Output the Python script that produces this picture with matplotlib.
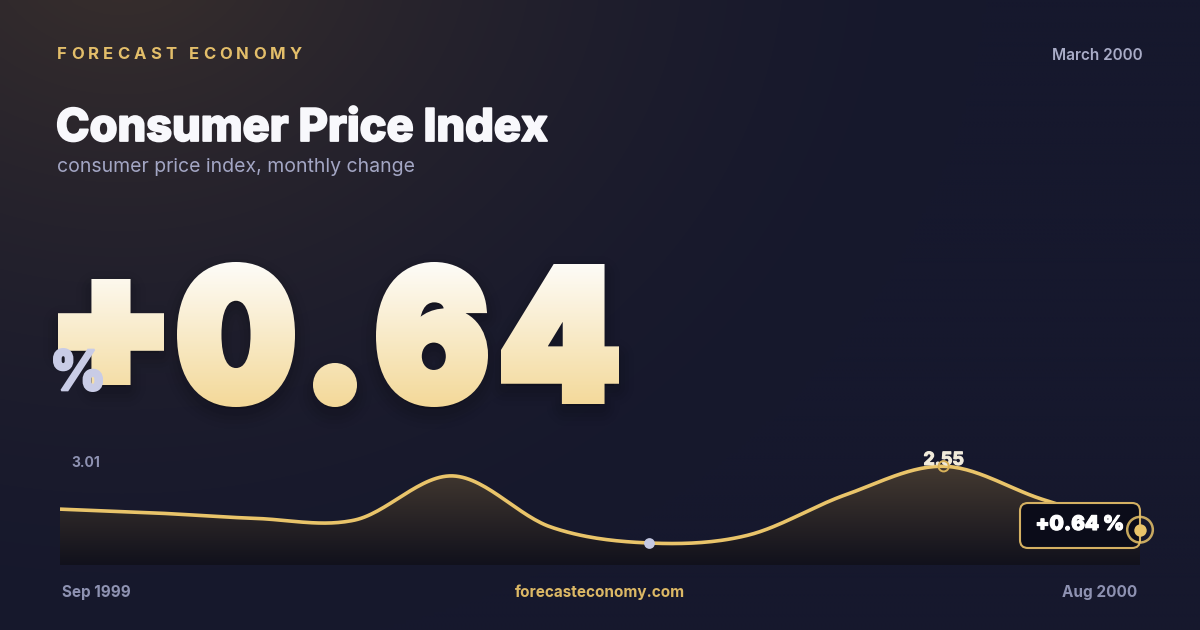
import numpy as np
import matplotlib
matplotlib.use("Agg")
import matplotlib.pyplot as plt
import matplotlib.patheffects as pe
from matplotlib.textpath import TextPath
from matplotlib.patches import PathPatch, FancyBboxPatch, Polygon
from matplotlib.path import Path
from matplotlib.font_manager import FontProperties
from matplotlib.transforms import Affine2D, Bbox
from matplotlib.colors import to_rgb

plt.rcParams["font.family"] = ["Inter", "DejaVu Sans"]

# data
months = ["Sep 1999", "Oct 1999", "Nov 1999", "Dec 1999", "Jan 2000", "Feb 2000",
          "Mar 2000", "Apr 2000", "May 2000", "Jun 2000", "Jul 2000", "Aug 2000"]
cpi_change = [1.26, 1.14, 0.98, 0.93, 2.26, 0.72, 0.24, 0.47, 1.69, 2.55, 1.56, 0.64]
axis_max, axis_min = 3.01, 0.18
latest_idx = len(cpi_change) - 1
peak_idx = int(np.argmax(cpi_change))
current_idx = 6  # March 2000

brand = "FORECAST ECONOMY"
title = "Consumer Price Index"
subtitle = "consumer price index, monthly change"
date_label = "March 2000"
site = "forecasteconomy.com"

W, H = 1200, 630
GOLD = "#e9c46a"
MUTED = "#8e92b2"
PX = 72 / 100  # points per pixel

# ink boxes of the hero glyphs (x0, x1, ytop, ybot) in pixels
hero_boxes = [(58, 164, 279, 385), (177, 295, 262, 407), (313, 357, 363, 407),
              (376, 488, 262, 407), (501, 619, 264, 404)]


def catmull_rom(x, y, n=30):
    pts = np.column_stack([x, y]).astype(float)
    ext = np.vstack([pts[0], pts, pts[-1]])
    t = np.linspace(0, 1, n, endpoint=False)[:, None]
    out = []
    for i in range(len(pts) - 1):
        p0, p1, p2, p3 = ext[i], ext[i + 1], ext[i + 2], ext[i + 3]
        c1 = p1 + (p2 - p0) / 6
        c2 = p2 - (p3 - p1) / 6
        seg = ((1 - t) ** 3) * p1 + 3 * ((1 - t) ** 2) * t * c1 + 3 * (1 - t) * t ** 2 * c2 + t ** 3 * p2
        out.append(seg)
    out.append(pts[-1:])
    out = np.vstack(out)
    return out[:, 0], out[:, 1]


def fit_path(path, x0, x1, ytop, ybot):
    e = path.get_extents()
    tr = (Affine2D().translate(-e.x0, -e.y0)
          .scale((x1 - x0) / e.width, -(ybot - ytop) / e.height)
          .translate(x0, ybot))
    return tr.transform_path(path)


def heavy_glyphs(text, boxes, hw, prop):
    # fit each glyph inside its box shrunk by the stroke half-width
    paths = []
    for ch, (x0, x1, yt, yb) in zip(text, boxes):
        tp = TextPath((0, 0), ch, size=100, prop=prop)
        paths.append(fit_path(tp, x0 + hw, x1 - hw, yt + hw, yb - hw))
    return Path.make_compound_path(*paths)


class RowGradient(pe.AbstractPathEffect):
    """Fill + stroke a path one pixel row at a time, colour varying top to bottom."""

    def __init__(self, ytop, ybot, c_top, c_bot, lw_px):
        super().__init__()
        self.ytop, self.ybot = ytop, ybot
        self.c_top, self.c_bot = np.array(to_rgb(c_top)), np.array(to_rgb(c_bot))
        self.lw_px = lw_px

    def draw_path(self, renderer, gc, tpath, affine, rgbFace=None):
        hh = renderer.height
        pad = int(self.lw_px) + 3
        for r in range(int(self.ytop) - pad, int(self.ybot) + pad):
            f = np.clip((r + 0.5 - self.ytop) / (self.ybot - self.ytop), 0, 1)
            c = tuple(self.c_top * (1 - f) + self.c_bot * f)
            gc0 = renderer.new_gc()
            gc0.copy_properties(gc)
            gc0.set_clip_rectangle(Bbox([[0, hh - r - 1], [renderer.width, hh - r]]))
            gc0.set_linewidth(self.lw_px * PX)
            gc0.set_joinstyle("miter")
            gc0.set_foreground(c)
            renderer.draw_path(gc0, tpath, affine, c)
            gc0.restore()


fig = plt.figure(figsize=(W / 100, H / 100), dpi=100)
bold_font = FontProperties(family=["Inter", "DejaVu Sans"], weight="black")

# background, pixel coords (y down)
bg = fig.add_axes([0, 0, 1, 1], zorder=0)
bg.set_xlim(0, W)
bg.set_ylim(H, 0)
bg.axis("off")

gy, gx = np.mgrid[0:H:4, 0:W:4]
base = np.array(to_rgb("#16182d"))
warm = np.array(to_rgb("#3a302c"))
d = np.hypot((gx - 120) / 1.2, gy + 60)
w = np.clip(1 - d / 720, 0, 1) ** 1.7
img = base[None, None, :] * (1 - w[..., None]) + warm[None, None, :] * w[..., None]
bg.imshow(img, extent=(0, W, H, 0), origin="upper", aspect="auto",
          interpolation="bilinear", zorder=0)

# header
bg.text(1143, 60, date_label, ha="right", va="baseline", fontsize=11,
        fontweight="semibold", color="#a9acc7", zorder=3)
bg.text(56, 141, title, ha="left", va="baseline", fontsize=32.5,
        fontweight="heavy", color="#f8f8fc", zorder=3,
        path_effects=[pe.withStroke(linewidth=1.3, foreground="#f8f8fc")])
bg.text(57, 172, subtitle, ha="left", va="baseline", fontsize=14,
        color="#a3a6c4", zorder=3)

renderer = fig.canvas.get_renderer()
kw = dict(fontsize=12, fontweight="bold", color="#e3be6a", va="baseline", zorder=3)
probe = bg.text(0, -100, "I", **kw)
wI = probe.get_window_extent(renderer).width
full = bg.text(0, -100, brand, **kw)
natural = full.get_window_extent(renderer).width
probe.remove()
full.remove()
tracking = (302 - 57 - natural) / (len(brand) - 1)
for i, ch in enumerate(brand):
    if i == 0:
        off = 0
    else:
        t = bg.text(0, -100, brand[:i] + "I", **kw)
        off = t.get_window_extent(renderer).width - wI
        t.remove()
    bg.text(57 + off + i * tracking, 59, ch, **kw)

# hero number
latest = f"{cpi_change[latest_idx]:+.2f}"
HW = 5
num_path = heavy_glyphs(latest, hero_boxes, HW, bold_font)
shadow = Affine2D().translate(0, 7).transform_path(num_path)
for lw, a in [(40, 0.02), (30, 0.03), (22, 0.035), (14, 0.045)]:
    bg.add_patch(PathPatch(shadow, facecolor=(0, 0, 0, a), edgecolor=(0, 0, 0, a),
                           lw=lw * PX, joinstyle="round", zorder=2))
hero = PathPatch(num_path, facecolor="#f8ebc4", edgecolor="#f8ebc4", zorder=3,
                 path_effects=[RowGradient(262, 407, "#fdfcf8", "#f3d898", 2 * HW)])
bg.add_patch(hero)

pct_hw = 1
pct_path = heavy_glyphs("%", [(53, 103, 348, 392)], pct_hw, bold_font)
bg.add_patch(PathPatch(pct_path, facecolor="#c9cce6", edgecolor="#c9cce6",
                       lw=2 * pct_hw * PX, joinstyle="miter", zorder=4))

# chart
chart = fig.add_axes([60 / W, 1 - 565 / H, 1080 / W, (565 - 451) / H], zorder=2)
scale = (axis_max - axis_min) / (545 - 451)
lo = axis_min - (565 - 545) * scale
chart.axis("off")
chart.patch.set_alpha(0)

xs = np.arange(len(cpi_change))
sx, sy = catmull_rom(xs, cpi_change)
verts = np.vstack([np.column_stack([sx, sy]), [[xs[-1], lo], [xs[0], lo]]])
clip_poly = Polygon(verts, closed=True, facecolor="none", edgecolor="none",
                    transform=chart.transData)
chart.add_patch(clip_poly)
ft, fb = np.array(to_rgb("#4c4034")), np.array(to_rgb("#11111c"))
s2 = np.linspace(0, 1, 200)[:, None, None]
fgrad = ft * (1 - s2) + fb * s2
fim = chart.imshow(fgrad, extent=(xs[0], xs[-1], lo, axis_max), origin="upper",
                   aspect="auto", interpolation="bilinear", zorder=1)
fim.set_clip_path(clip_poly)
chart.plot(sx, sy, color=GOLD, lw=2.6, solid_capstyle="butt", zorder=3)
chart.set_xlim(xs[0], xs[-1])
chart.set_ylim(lo, axis_max)

# current month dot
chart.scatter([xs[current_idx]], [cpi_change[current_idx]], s=60, color="#c5c9e2",
              zorder=4, clip_on=False, linewidths=0)

# peak
chart.annotate(f"{cpi_change[peak_idx]:.2f}", (xs[peak_idx], cpi_change[peak_idx]),
               xytext=(0, 1), textcoords="offset points", ha="center", va="baseline",
               fontsize=13, fontweight="bold", color="#f1ebdb", zorder=5,
               annotation_clip=False,
               path_effects=[pe.withStroke(linewidth=0.8, foreground="#f1ebdb")])
chart.scatter([xs[peak_idx]], [cpi_change[peak_idx]], s=55, facecolor="none",
              edgecolor="#d8b25a", linewidths=1.4, zorder=6, clip_on=False)

# latest badge
badge = FancyBboxPatch((1020, 503), 120, 45, boxstyle="round,pad=0,rounding_size=8",
                       facecolor="#0b0c19", edgecolor="#d4b062", lw=1.5,
                       transform=bg.transData, zorder=5, clip_on=False)
chart.add_patch(badge)
chart.text(1080, 525, f"{latest} %", transform=bg.transData,
           ha="center", va="center", fontsize=14.5, fontweight="black",
           color="white", zorder=6,
           path_effects=[pe.withStroke(linewidth=0.8, foreground="white")])
chart.scatter([xs[latest_idx]], [cpi_change[latest_idx]], s=80, color=GOLD,
              zorder=7, clip_on=False, linewidths=0)
chart.scatter([xs[latest_idx]], [cpi_change[latest_idx]], s=340, facecolor="none",
              edgecolor=GOLD, linewidths=1.8, alpha=0.85, zorder=7, clip_on=False)

# axis value labels
bg.text(71, 467, f"{axis_max:.2f}", fontsize=10, fontweight="bold", color=MUTED,
        va="baseline", zorder=3)
bg.text(71, 552, f"{axis_min:.2f}", fontsize=10, fontweight="bold", color=MUTED,
        va="baseline", zorder=3)

# footer
bg.text(62, 597, months[0], fontsize=11, fontweight="bold", color=MUTED,
        va="baseline", zorder=3)
bg.text(1137, 597, months[-1], fontsize=11, fontweight="bold", color=MUTED,
        ha="right", va="baseline", zorder=3)
bg.text(600, 597, site, fontsize=11, fontweight="bold", color="#dcb865",
        ha="center", va="baseline", zorder=3)

fig.savefig("out.png", dpi=100)
